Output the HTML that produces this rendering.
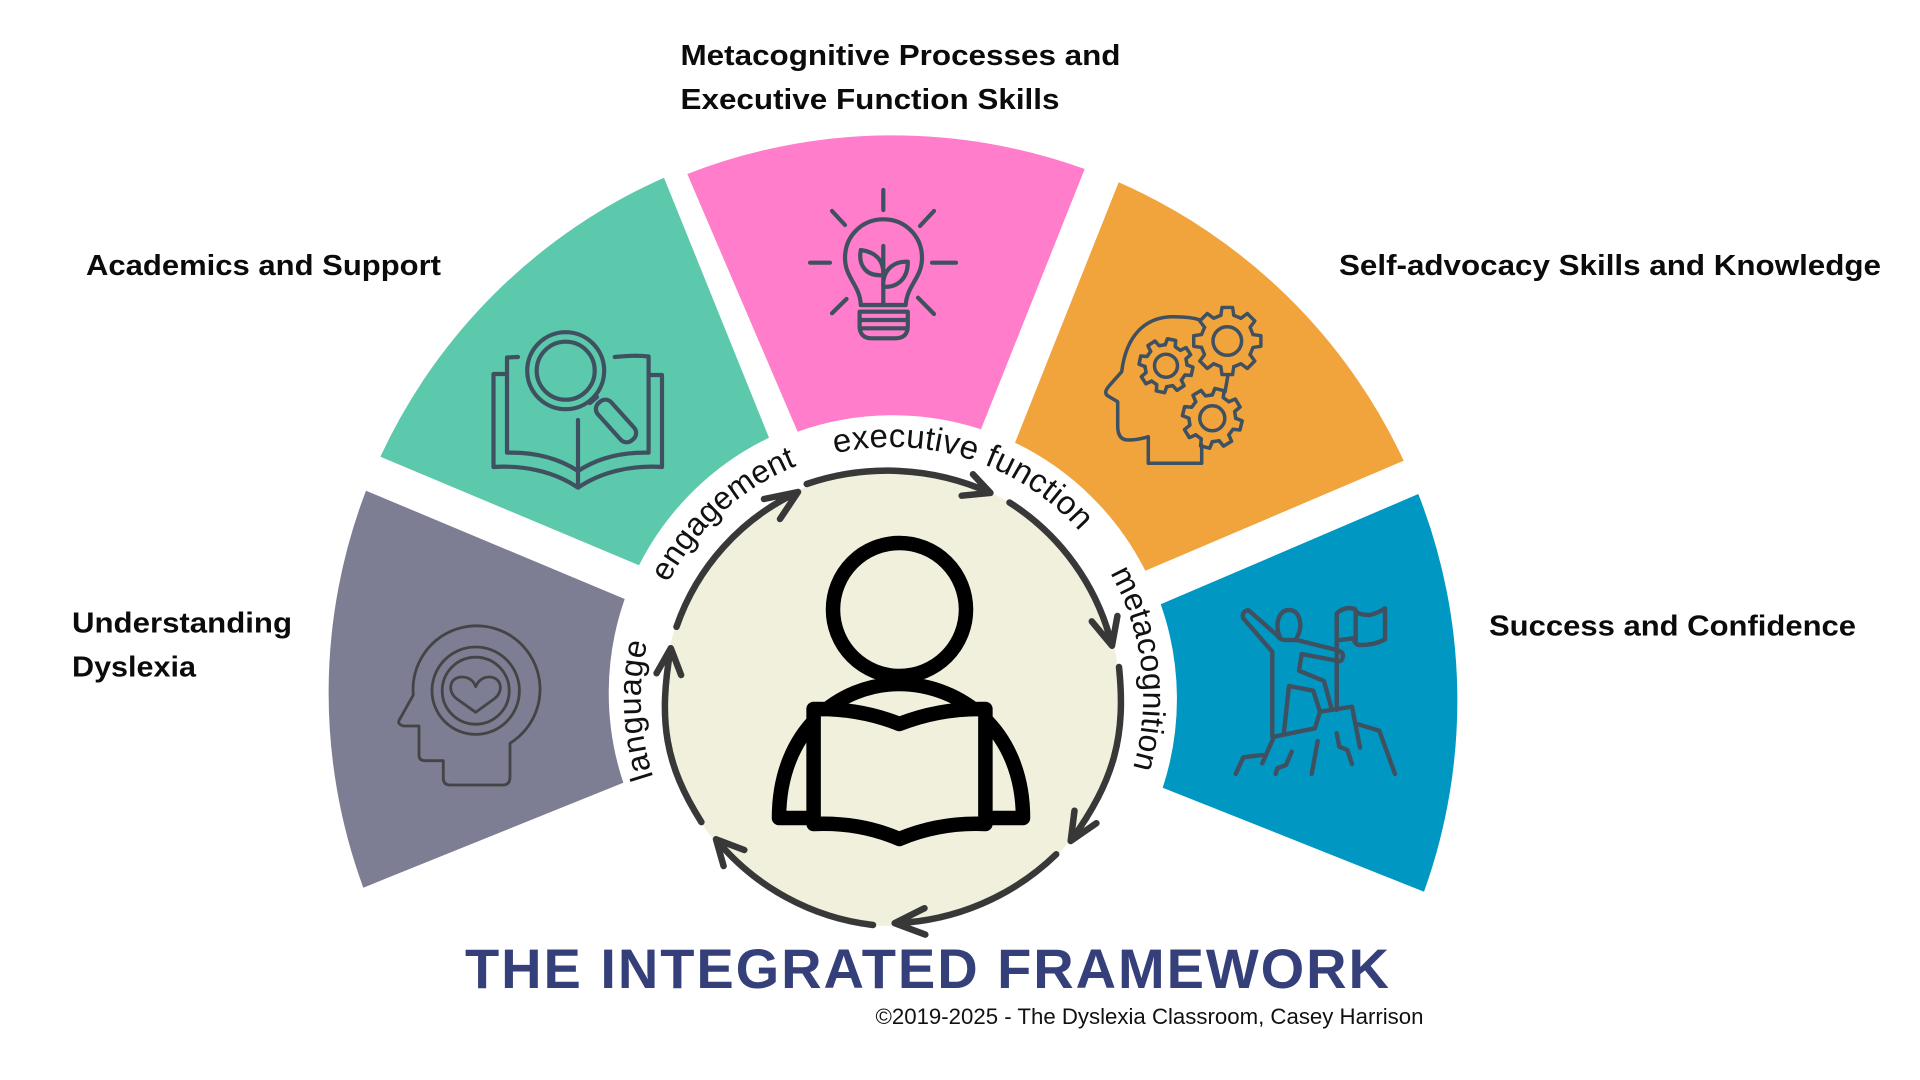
<!DOCTYPE html>
<html><head><meta charset="utf-8"><title>The Integrated Framework</title>
<style>html,body{margin:0;padding:0;background:#fff}svg{display:block}
.l{font:bold 29px "Liberation Sans",sans-serif;fill:#0b0b0b}
.c{font:32px "Liberation Sans",sans-serif;fill:#111}
</style></head><body>
<svg width="1920" height="1080" viewBox="0 0 1920 1080" xmlns="http://www.w3.org/2000/svg">
<defs>
<path id="p1" d="M653.3 777A251 251 0 0 1 648.5 637.3A251 251 0 0 1 700 535"/>
<path id="p2" d="M668 583A251 251 0 0 1 793.9 466.9A251 251 0 0 1 892 447"/>
<path id="p3" d="M835 453.5A251 251 0 0 1 1078.5 530.1A251 251 0 0 1 1130 620"/>
<path id="p4" d="M1110 573A251 251 0 0 1 1132 771.4A251 251 0 0 1 1090 850"/>
<g id="gear"><g id="t"><path id="t0" d="M-.189 -.757L-.156 -.988L.156 -.988L.189 -.757L.402 -.669"/></g>
<use href="#t0" transform="rotate(45)"/><use href="#t0" transform="rotate(90)"/><use href="#t0" transform="rotate(135)"/><use href="#t0" transform="rotate(180)"/><use href="#t0" transform="rotate(225)"/><use href="#t0" transform="rotate(270)"/><use href="#t0" transform="rotate(315)"/></g>
</defs>
<rect width="1920" height="1080" fill="#fff"/>
<!-- segments -->
<path fill="#7d7d93" d="M366 490.7A565 565 0 0 0 363.3 887.7L623.3 782.7A284 284 0 0 1 624.7 599Z"/>
<path fill="#5cc8ac" d="M664 177.7A565 565 0 0 0 380.4 456.7L639 565.3A284 284 0 0 1 769 437.7Z"/>
<path fill="#ff7dcb" d="M687.3 174A565 565 0 0 1 1084.7 169L981 429.3A284 284 0 0 0 797.6 431.7Z"/>
<path fill="#f1a33c" d="M1118.7 182.3A565 565 0 0 1 1403.7 460.7L1145.3 570.7A284 284 0 0 0 1015 442.7Z"/>
<path fill="#0098c3" d="M1418.3 494A565 565 0 0 1 1424 891.7L1162.7 787.7A284 284 0 0 0 1160.7 604.3Z"/>
<!-- centre -->
<circle cx="892" cy="698" r="228" fill="#f0f0dc"/>
<!-- person -->
<g fill="none" stroke="#000" stroke-width="14.5" stroke-linejoin="round" stroke-linecap="round">
<circle cx="899.5" cy="609.5" r="66.5" fill="#f0f0dc"/>
<path d="M779 818C779 730 840 684 899 684C960 684 1023 730 1023 818Z"/>
<path fill="#f0f0dc" d="M813.6 709Q860 708 899.3 724Q940 708 985.4 709V824Q940 822 899.3 839Q860 822 813.6 824Z"/>
</g>
<!-- cycle arrows -->
<g fill="none" stroke="#383838" stroke-width="6.5" stroke-linecap="round" stroke-linejoin="round">
<path d="M676.5 626.8A232 232 0 0 1 798 492M764 499L798 492L780 519"/>
<path d="M806.7 484A250 250 0 0 1 990.4 492.9M961.7 495.7L990.4 492.9L973 474.3"/>
<path d="M1009.5 502.5A236 236 0 0 1 1112 645.7M1091.8 621.4L1112 645.7L1117.4 616"/>
<path d="M1119 667C1126 735 1115 780 1070.7 841M1074.5 810.7L1070.7 841L1096.4 823.2"/>
<path d="M1056.2 854.3A245 245 0 0 1 894.7 923.2M924.5 908.2L894.7 923.2L925.3 934.6"/>
<path d="M873 925A240 240 0 0 1 716 839.3M744.3 850L716 839.3L723.6 866"/>
<path d="M701.4 822.1C665 765 658 720 670.8 648.2M656.6 673.2L670.8 648.2L681.1 675"/>
</g>
<!-- curved labels -->
<text class="c" letter-spacing=".7"><textPath href="#p1">language</textPath></text>
<text class="c"><textPath href="#p2">engagement</textPath></text>
<text class="c" style="font-size:33px" letter-spacing=".3"><textPath href="#p3">executive function</textPath></text>
<text class="c" letter-spacing=".2"><textPath href="#p4">metacognition</textPath></text>
<!-- gray head icon -->
<g fill="none" stroke="#444" stroke-width="2.8" stroke-linejoin="round" stroke-linecap="round">
<path d="M413.3 695A63.5 63.5 0 1 1 510 743.3V776.7Q510 785 503 785H450Q443.3 785 443.3 778V760.7H425Q419 760.7 419 755V726H403.3Q397 724 399.3 720Z"/>
<circle cx="475.7" cy="690.7" r="43.7"/><circle cx="475.7" cy="690.7" r="33.5"/>
<path d="M475.7 712.3L457 699C447 692 449 677 462 677C470 677 474 682 475.7 686.7C477.5 682 482 677 489 677C502 677 504 692 494 699Z"/>
</g>
<g fill="none" stroke="#3f5060" stroke-linejoin="round" stroke-linecap="round">
<!-- book + magnifier -->
<g stroke-width="4.2">
<path d="M505.7 374H493.5V467C525 465 555 472 578 487.7C601 472 631 465 662 467V375H649"/>
<path d="M518 357L507 357.5V452.7C535 452 558 458 578 471C598 458 621 452 648.6 452.7V356.5C636 355 626 356 614.7 357"/>
<path d="M578 420V486"/>
<circle cx="565.7" cy="370.7" r="38.5"/><circle cx="565.7" cy="370.7" r="29"/>
<path d="M590 403L597 397"/>
<rect x="-25" y="-9" width="50" height="18" rx="8" transform="translate(616 421) rotate(48)"/>
</g>
<!-- bulb -->
<g stroke-width="4.2">
<path d="M883.3 190V210M810 262.7H830M932 262.7H956M832 211L845 225M934 211L920 226M846.5 299L832 313.3M918 297.7L934 314"/>
<path d="M860.8 305C860 285 845 278 845 258C845 236 862 219.3 883.3 219.3C905 219.3 922 236 922 258C922 278 907 285 905.7 305Z"/>
<path d="M859.6 311.7H907.8V326Q907.8 338.3 895 338.3H872Q859.6 338.3 859.6 326ZM860 320H907.5M860 328.3H907.5"/>
<path d="M883.3 246V305M883.3 275C866 277 858 265 860.8 250C875 252 884 260 883.3 275ZM883.3 286.7C900 288 908 276 907.8 261.7C892 261 882 272 883.3 286.7Z"/>
</g>
<!-- gears head -->
<g stroke-width="3.5">
<path d="M1200 320C1192 317 1182 316.7 1173 316.7C1145 316.7 1126 336 1121.7 371.7L1109 386Q1103 393 1108 396L1117.7 401.7V426.7Q1118 440 1128 440Q1138 440 1148.3 436.7V463.3H1201.7V445M1228 375L1225 392"/>
<circle cx="1227.3" cy="341" r="14.3"/><circle cx="1166" cy="365.7" r="11.5"/><circle cx="1212.3" cy="418.3" r="12.5"/>
<use href="#gear" transform="translate(1227.3 341) scale(34)" stroke-width=".1"/>
<use href="#gear" transform="translate(1166 365.7) rotate(12) scale(27)" stroke-width=".13"/>
<use href="#gear" transform="translate(1212.3 418.3) rotate(14) scale(30)" stroke-width=".117"/>
</g>
<!-- climber -->
<g stroke-width="4.4">
<path d="M1272.3 736.7V651.7L1243.3 618.3Q1241 612 1248.3 610L1276.7 635Q1280 640 1285 640H1296.7L1336.7 650Q1344 652 1342.7 657Q1342 662 1338.3 661L1301.7 654L1299 670.7L1324 681L1331.7 709.3"/>
<path d="M1280 637C1275 628 1277 610 1289 610C1301 610 1303 628 1297 637"/>
<path d="M1284 731.7L1289 686L1313.3 690.7L1320 711.7L1315 728.3L1274 736.7L1262.3 763.3"/>
<path d="M1320 711.7L1352 706.7L1360 747.7M1358.3 724.3L1379.3 730.7L1395 774M1262.3 755L1243.3 757.3L1235.7 774"/>
<path d="M1291.7 751.7L1286 765L1277.3 768.3L1275.7 774M1317.7 741L1311.7 774M1336.7 733.3L1339.3 746.7L1347.3 750L1352 764"/>
<path d="M1336.7 710V613.3Q1345 606 1355 609Q1356 615 1370 615Q1378 613 1385 608.3V639.3Q1375 645 1360 645Q1355 645 1353.3 638.3L1340 640M1355.7 611V643"/>
</g>
</g>
<!-- labels -->
<text class="l" x="86" y="275" textLength="355" lengthAdjust="spacingAndGlyphs">Academics and Support</text>
<text class="l" x="680.5" y="65" textLength="440" lengthAdjust="spacingAndGlyphs">Metacognitive Processes and</text>
<text class="l" x="680.5" y="109" textLength="379" lengthAdjust="spacingAndGlyphs">Executive Function Skills</text>
<text class="l" x="1339" y="275" textLength="542" lengthAdjust="spacingAndGlyphs">Self-advocacy Skills and Knowledge</text>
<text class="l" x="72" y="632.5" textLength="220" lengthAdjust="spacingAndGlyphs">Understanding</text>
<text class="l" x="72" y="676.5" textLength="124" lengthAdjust="spacingAndGlyphs">Dyslexia</text>
<text class="l" x="1489" y="635.5" textLength="367" lengthAdjust="spacingAndGlyphs">Success and Confidence</text>
<text x="465" y="988" textLength="924" font-family="Liberation Sans, sans-serif" font-weight="bold" font-size="56" fill="#35407a">THE INTEGRATED FRAMEWORK</text>
<text x="875.5" y="1024" textLength="548" lengthAdjust="spacingAndGlyphs" font-family="Liberation Sans, sans-serif" font-size="22" fill="#111">©2019-2025 - The Dyslexia Classroom, Casey Harrison</text>
</svg>
</body></html>
